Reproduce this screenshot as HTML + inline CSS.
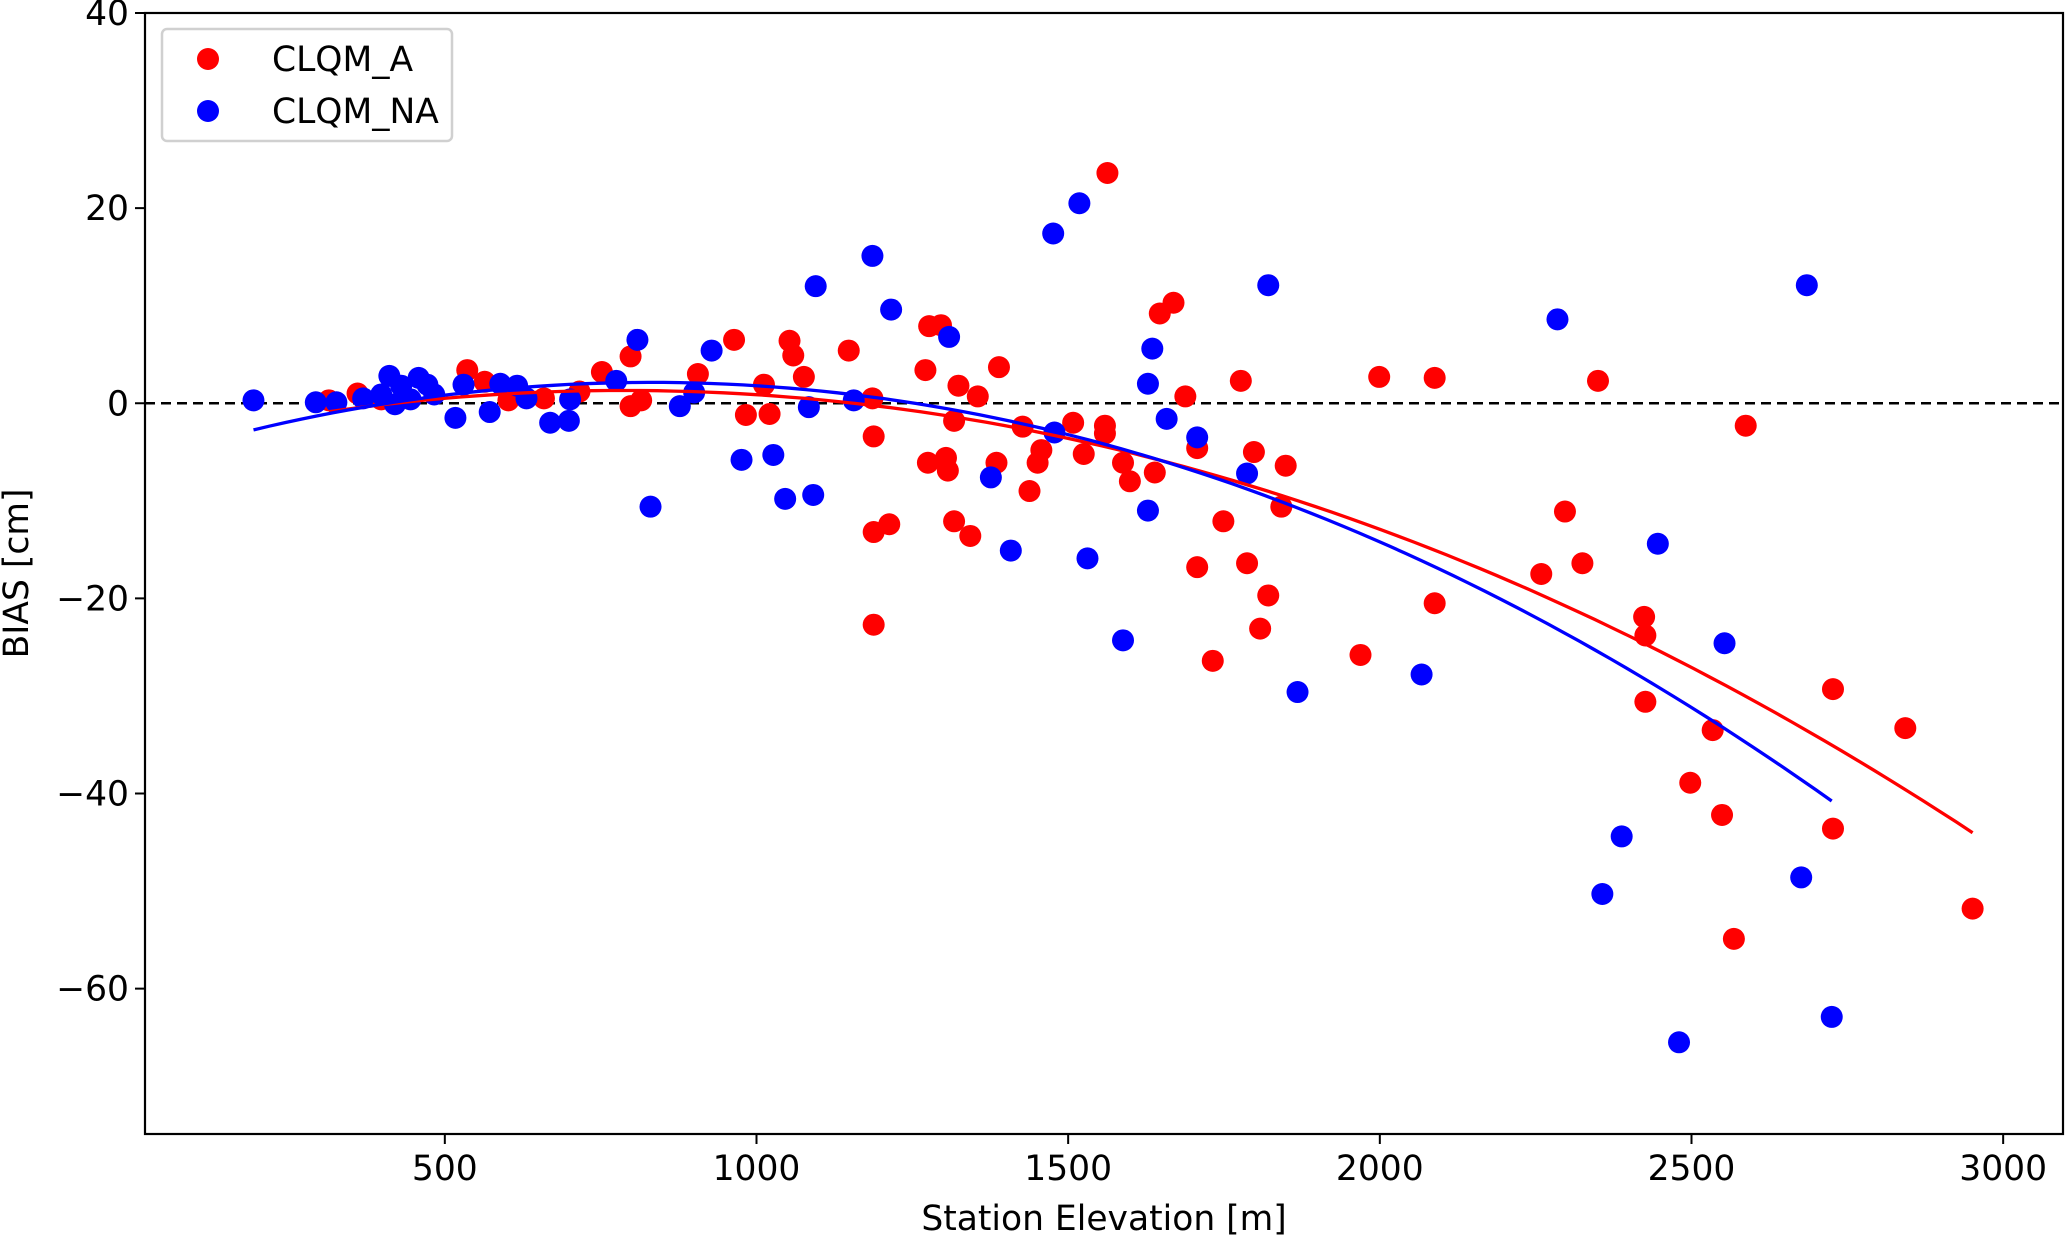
<!DOCTYPE html>
<html><head><meta charset="utf-8"><style>
html,body{margin:0;padding:0;background:#fff;}
svg text{font-family:"DejaVu Sans","Liberation Sans",sans-serif;fill:#000;}
</style></head><body>
<svg id="chart" width="2067" height="1236" viewBox="0 0 2067 1236" xmlns="http://www.w3.org/2000/svg">
<g id="plot"></g>
</svg>
<script>
const xTicks = [500, 1000, 1500, 2000, 2500, 3000];
const yTicks = [40, 20, 0, -20, -40, -60];
const seriesNames = ["CLQM_A", "CLQM_NA"];
const redX = [314,360,398,536,564,602,659,716,752,798,798,815,906,964,983,1012,1021,1053,1059,1076,1148,1186,1188,1188,1188,1213,1271,1275,1277,1296,1304,1307,1317,1317,1324,1343,1355,1385,1389,1427,1438,1451,1457,1508,1525,1559,1559,1563,1588,1599,1639,1647,1669,1688,1707,1707,1732,1749,1777,1787,1798,1808,1821,1842,1849,1969,1999,2088,2088,2259,2297,2325,2350,2424,2426,2426,2498,2534,2549,2568,2587,2727,2727,2843,2951];
const redY = [0.3,1.0,0.4,3.4,2.2,0.3,0.5,1.2,3.2,4.8,-0.3,0.3,3.0,6.5,-1.2,1.9,-1.1,6.4,4.9,2.7,5.4,0.5,-3.4,-13.2,-22.7,-12.4,3.4,-6.1,7.9,8.0,-5.6,-6.9,-12.1,-1.8,1.8,-13.6,0.7,-6.1,3.7,-2.4,-9.0,-6.1,-4.8,-2.0,-5.2,-2.3,-3.1,23.6,-6.1,-8.0,-7.1,9.2,10.3,0.7,-4.6,-16.8,-26.4,-12.1,2.3,-16.4,-5.0,-23.1,-19.7,-10.6,-6.4,-25.8,2.7,2.6,-20.5,-17.5,-11.1,-16.4,2.3,-21.9,-23.8,-30.6,-38.9,-33.5,-42.2,-54.9,-2.3,-29.3,-43.6,-33.3,-51.8];
const blueX = [193,293,326,369,398,411,420,430,445,458,472,483,517,530,572,589,616,631,669,699,701,775,809,830,877,900,928,976,1027,1046,1084,1091,1095,1156,1186,1216,1309,1376,1408,1476,1478,1518,1531,1588,1628,1628,1635,1658,1707,1787,1821,1868,2067,2285,2357,2388,2446,2480,2553,2676,2685,2725];
const blueY = [0.3,0.1,0.1,0.5,0.9,2.8,-0.1,1.8,0.4,2.6,1.9,0.9,-1.5,1.9,-0.9,2.0,1.8,0.5,-2.0,-1.8,0.4,2.3,6.5,-10.6,-0.3,1.1,5.4,-5.8,-5.3,-9.8,-0.4,-9.4,12.0,0.3,15.1,9.6,6.8,-7.6,-15.1,17.4,-3.0,20.5,-15.9,-24.3,2.0,-11.0,5.6,-1.6,-3.5,-7.2,12.1,-29.6,-27.8,8.6,-50.3,-44.4,-14.4,-65.5,-24.6,-48.6,12.1,-62.9];

const L=145,R=2063,T=13,B=1134;
const xMin=19,xMax=3096,yMin=-74.9,yMax=40;
function sx(v){return L+(v-xMin)/(xMax-xMin)*(R-L);}
function sy(v){return T+(yMax-v)/(yMax-yMin)*(B-T);}
const NS="http://www.w3.org/2000/svg";
const g=document.getElementById('plot');
function mk(tag,attrs,parent){const e=document.createElementNS(NS,tag);for(const k in attrs)e.setAttribute(k,attrs[k]);(parent||g).appendChild(e);return e;}

let zl=mk('line',{x1:L,x2:R,y1:sy(0),y2:sy(0),stroke:'#000','stroke-width':2.6,'stroke-dasharray':'10,6'});



function drawPts(xs,ys,color,name){
  const grp=mk('g',{});
  
  
  for(let i=0;i<xs.length;i++){
    const c=mk('circle',{cx:sx(xs[i]),cy:sy(ys[i]),r:11,fill:color},grp);
    
    
  }
}
function polyfit2(xs,ys){
  const s=1000;let S=[0,0,0,0,0],T2=[0,0,0];
  for(let i=0;i<xs.length;i++){const x=xs[i]/s;let p=1;for(let k=0;k<5;k++){S[k]+=p;if(k<3)T2[k]+=p*ys[i];p*=x;}}
  const M=[[S[0],S[1],S[2],T2[0]],[S[1],S[2],S[3],T2[1]],[S[2],S[3],S[4],T2[2]]];
  for(let i=0;i<3;i++){for(let j=i+1;j<3;j++){const f=M[j][i]/M[i][i];for(let k=i;k<4;k++)M[j][k]-=f*M[i][k];}}
  const c=[0,0,0];for(let i=2;i>=0;i--){let v=M[i][3];for(let k=i+1;k<3;k++)v-=M[i][k]*c[k];c[i]=v/M[i][i];}
  return x=>{const t=x/s;return c[0]+c[1]*t+c[2]*t*t;};
}
function drawFit(xs,ys,color,name){
  const f=polyfit2(xs,ys);const lo=Math.min(...xs),hi=Math.max(...xs);
  let d='';for(let i=0;i<=100;i++){const x=lo+(hi-lo)*i/100;d+=(i?'L':'M')+sx(x).toFixed(1)+','+sy(f(x)).toFixed(1);}
  const p=mk('path',{d:d,fill:'none',stroke:color,'stroke-width':3.3});
  
  
}
drawPts(redX,redY,'#ff0000','clqm-a');
drawPts(blueX,blueY,'#0000ff','clqm-na');
drawFit(redX,redY,'#ff0000','clqm-a');
drawFit(blueX,blueY,'#0000ff','clqm-na');

let fr=mk('rect',{x:L,y:T,width:R-L,height:B-T,fill:'none',stroke:'#000','stroke-width':2.2});



xTicks.forEach(v=>{
  const x=sx(v);
  const t=mk('line',{x1:x,x2:x,y1:B,y2:B+10,stroke:'#000','stroke-width':2});
  
  
  const lb=mk('text',{x:x,y:B+46,'text-anchor':'middle','font-size':34.5});
  lb.textContent=v;
  
  
});
yTicks.forEach(v=>{
  const y=sy(v);
  const t=mk('line',{x1:L-10,x2:L,y1:y,y2:y,stroke:'#000','stroke-width':2});
  
  
  const lb=mk('text',{x:L-16,y:y+12,'text-anchor':'end','font-size':34.5});
  lb.textContent=(v<0?'\u2212'+Math.abs(v):v);
  
  
});
let xt=mk('text',{x:(L+R)/2,y:1230,'text-anchor':'middle','font-size':34.5});
xt.textContent='Station Elevation [m]';


let yt=mk('text',{x:0,y:0,'text-anchor':'middle','font-size':34.5,transform:'translate(28,'+((T+B)/2)+') rotate(-90)'});
yt.textContent='BIAS [cm]';



const lg=mk('g',{});


mk('rect',{x:162,y:29,width:290,height:112,rx:5,fill:'#fff','fill-opacity':0.8,stroke:'#d0d0d0','stroke-width':2.5},lg);
const colors=['#ff0000','#0000ff'];
seriesNames.forEach((n,i)=>{
  const e=mk('g',{},lg);
  
  
  mk('circle',{cx:208,cy:59+i*52,r:11,fill:colors[i]},e);
  const t=mk('text',{x:272,y:71+i*52,'font-size':34.5},e);
  t.textContent=n;
});
</script>
</body></html>
